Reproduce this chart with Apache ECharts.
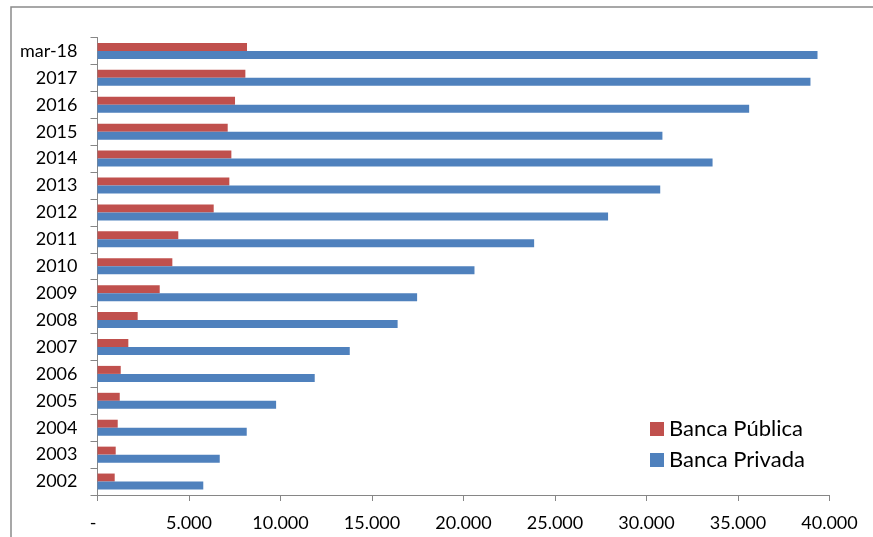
<!DOCTYPE html>
<html>
<head>
<meta charset="utf-8">
<script src="https://cdn.jsdelivr.net/npm/echarts@6/dist/echarts.min.js"></script>
<style>
  html, body { margin: 0; padding: 0; background: #ffffff; }
  #chart { width: 873px; height: 537px; }
</style>
</head>
<body>
<div id="chart"></div>
<script>
// Categories listed top to bottom (the y axis is inverted)
const categories = ['mar-18', '2017', '2016', '2015', '2014', '2013', '2012', '2011',
                    '2010', '2009', '2008', '2007', '2006', '2005', '2004', '2003', '2002'];

const bancaPublica = [8170, 8080, 7515, 7115, 7315, 7205, 6350, 4415,
                      4090, 3400, 2195, 1685, 1270, 1215, 1105, 995, 940];

const bancaPrivada = [39345, 38960, 35610, 30870, 33610, 30750, 27900, 23860,
                      20600, 17465, 16400, 13785, 11870, 9760, 8155, 6680, 5780];

const seriesNames = ['Banca Pública', 'Banca Privada'];
const xTicks = { min: 0, max: 40000, interval: 5000 };

const axisGray = '#868686';
const font = 'Lato, "Open Sans", sans-serif';

function fmtThousands(v) {
  if (v === 0) return '-\u2002';
  return String(v).replace(/\B(?=(\d{3})+(?!\d))/g, '.');
}

const chart = echarts.init(document.getElementById('chart'), null, { renderer: 'canvas' });

chart.setOption({
  backgroundColor: '#ffffff',
  animation: false,
  graphic: [{
    type: 'rect',
    shape: { x: 11, y: 7, width: 1000, height: 700 },
    style: { fill: 'none', stroke: '#8a8a8a', lineWidth: 1.5 },
    silent: true,
    z: -1
  }],
  grid: { left: 97.5, right: 43.5, top: 37.5, bottom: 42, containLabel: false },
  legend: {
    data: seriesNames,
    orient: 'vertical',
    left: 645,
    top: 413,
    itemWidth: 14,
    itemHeight: 14,
    itemGap: 9,
    icon: 'rect',
    textStyle: { fontFamily: font, fontSize: 22, color: '#000000', padding: [0, 0, 0, 0] }
  },
  xAxis: {
    type: 'value',
    min: xTicks.min,
    max: xTicks.max,
    interval: xTicks.interval,
    axisLine: { show: true, lineStyle: { color: axisGray, width: 1 } },
    axisTick: { show: true, length: 6, lineStyle: { color: axisGray } },
    splitLine: { show: false },
    axisLabel: {
      formatter: fmtThousands,
      fontFamily: font,
      fontSize: 18,
      color: '#000000',
      margin: 19
    }
  },
  yAxis: {
    type: 'category',
    inverse: true,
    data: categories,
    axisLine: { show: true, lineStyle: { color: axisGray, width: 1 } },
    axisTick: { show: true, length: 7, lineStyle: { color: axisGray } },
    axisLabel: {
      fontFamily: font,
      fontSize: 18,
      color: '#000000',
      margin: 20
    }
  },
  series: [
    {
      name: seriesNames[0],
      type: 'bar',
      data: bancaPublica,
      barWidth: 8,
      barGap: '0%',
      itemStyle: { color: '#C0504D' }
    },
    {
      name: seriesNames[1],
      type: 'bar',
      data: bancaPrivada,
      barWidth: 8,
      barGap: '0%',
      itemStyle: { color: '#4F81BD' }
    }
  ]
});
</script>
</body>
</html>
